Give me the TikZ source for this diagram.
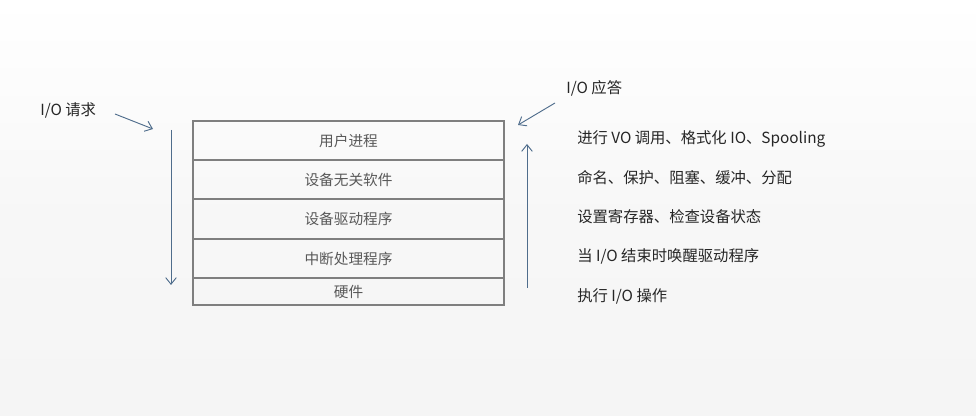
\documentclass[tikz,border=0pt]{standalone}
\usepackage{fontspec}
\setmainfont{Noto Sans CJK SC}
\usetikzlibrary{arrows.meta}
\definecolor{linegray}{HTML}{7F7F7F}
\definecolor{arrowblue}{HTML}{4F6D8C}
\definecolor{boxtext}{HTML}{595959}
\definecolor{labeltext}{HTML}{262626}
\begin{document}
\begin{tikzpicture}[
x=0.75pt, y=-0.75pt,
layer/.style={
draw=linegray,
line width=0.9pt,
minimum width=233.25pt,
minimum height=29.25pt,
inner sep=0pt,
text=boxtext,
font=\fontsize{11}{13}\selectfont
},
note/.style={
anchor=west,
inner sep=0pt,
text=labeltext,
font=\fontsize{11.5}{14}\selectfont
},
flow/.style={
draw=arrowblue,
line width=0.7pt,
-{Straight Barb[length=5pt,width=8pt]}
}
]

\shade[top color=white, bottom color=black!4, middle color=black!3] (0,0) rectangle (976,416);

\node[layer] (user) at (348.5,140.5) {用户进程};
\node[layer] (indep) at (348.5,179.5) {设备无关软件};
\node[layer, minimum height=30pt] (driver) at (348.5,219) {设备驱动程序};
\node[layer] (intr) at (348.5,258.5) {中断处理程序};
\node[layer, minimum height=20.25pt] (hw) at (348.5,291.5) {硬件};

\node[note] (req) at (40,110) {I/O 请求};
\node[note] (ans) at (566,88) {I/O 应答};

\node[note] (t1) at (577,139) {进行 VO 调用、格式化 IO、Spooling};
\node[note] (t2) at (577,178) {命名、保护、阻塞、缓冲、分配};
\node[note] (t3) at (577,217) {设置寄存器、检查设备状态};
\node[note] (t4) at (577,256) {当 I/O 结束时唤醒驱动程序};
\node[note] (t5) at (577,296) {执行 I/O 操作};

\coordinate (reqa) at (115,114);
\coordinate (reqb) at (153,129);
\coordinate (downa) at (171,130);
\coordinate (downb) at (171,285);
\coordinate (upa) at (527,288);
\coordinate (upb) at (527,144);
\coordinate (ansa) at (555,103);
\coordinate (ansb) at (518,125);

\draw[flow] (reqa) -- (reqb);
\draw[flow] (downa) -- (downb);
\draw[flow] (upa) -- (upb);
\draw[flow] (ansa) -- (ansb);

\end{tikzpicture}
\end{document}
